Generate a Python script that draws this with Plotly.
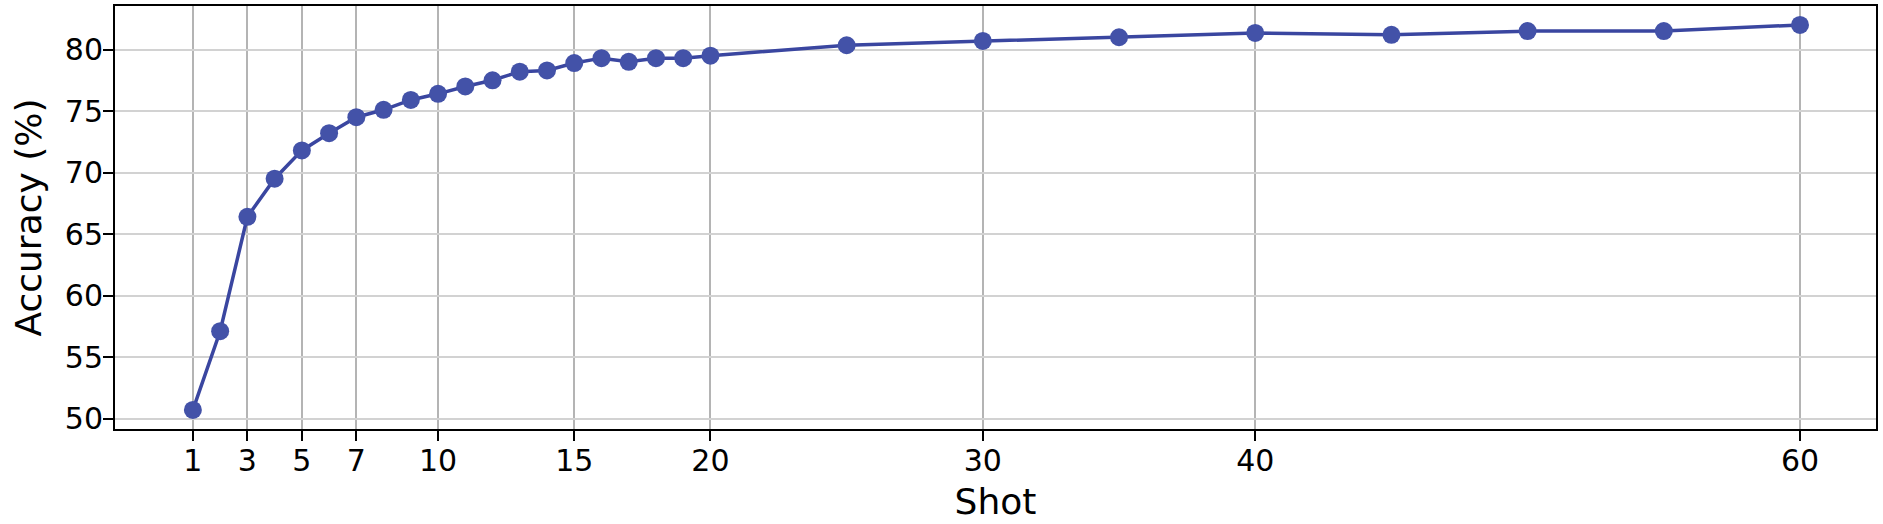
import plotly.graph_objects as go

shots = [1, 2, 3, 4, 5, 6, 7, 8, 9, 10, 11, 12, 13, 14, 15, 16, 17, 18, 19, 20,
         25, 30, 35, 40, 45, 50, 55, 60]
accuracy = [50.7, 57.1, 66.4, 69.5, 71.8, 73.2, 74.5, 75.1, 75.9, 76.4, 77.0, 77.5,
            78.2, 78.3, 78.9, 79.3, 79.0, 79.3, 79.3, 79.5,
            80.35, 80.7, 81.0, 81.35, 81.2, 81.5, 81.5, 82.0]
x_ticks = [1, 3, 5, 7, 10, 15, 20, 30, 40, 60]
y_ticks = [50, 55, 60, 65, 70, 75, 80]

fig = go.Figure()
fig.add_trace(go.Scatter(
    x=shots, y=accuracy, mode="lines+markers",
    line=dict(color="#3a46a0", width=3.5),
    marker=dict(color="#4352a8", size=18),
    showlegend=False,
))

axis_common = dict(
    showline=True, linecolor="black", linewidth=2, mirror=True,
    ticks="outside", ticklen=10, tickwidth=2, tickcolor="black",
    tickfont=dict(family="DejaVu Sans", size=30, color="black"),
    zeroline=False, automargin=False,
)

fig.update_layout(
    width=1883, height=524,
    margin=dict(l=115, r=7, t=6, b=95),
    plot_bgcolor="white", paper_bgcolor="white",
    font=dict(family="DejaVu Sans", color="black"),
    xaxis=dict(
        range=[-1.86, 62.79], tickmode="array", tickvals=x_ticks,
        ticktext=[str(v) for v in x_ticks],
        showgrid=True, gridcolor="#b4b4b4", gridwidth=1.5,
        ticklabelstandoff=-6,
        title=dict(text="Shot", font=dict(size=36, family="DejaVu Sans"), standoff=12),
        **axis_common,
    ),
    yaxis=dict(
        range=[49.15, 83.54], tickmode="array", tickvals=y_ticks,
        showgrid=True, gridcolor="#d2d2d2", gridwidth=2,
        ticklabelstandoff=-6,
        title=dict(text="Accuracy (%)", font=dict(size=36, family="DejaVu Sans"), standoff=12),
        **axis_common,
    ),
)

fig.write_html("out.html", config={"displayModeBar": False},
               post_script="document.body.style.margin='0px';")
